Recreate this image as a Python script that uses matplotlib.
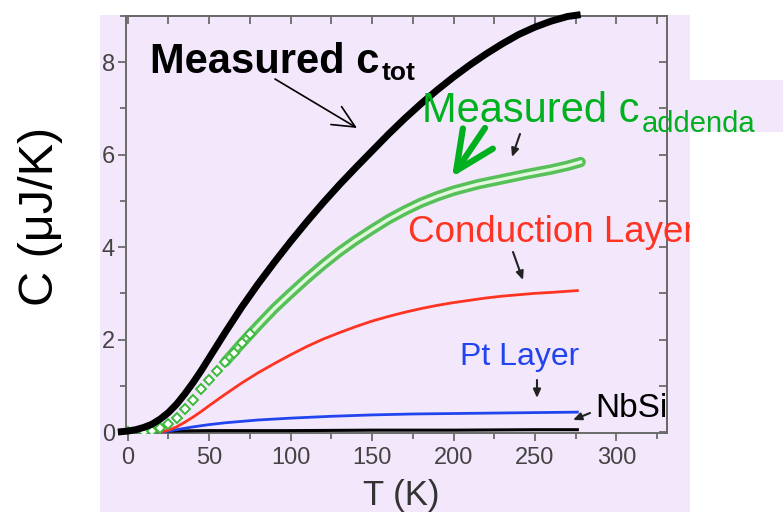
import matplotlib.pyplot as plt
from matplotlib.patches import Rectangle
from matplotlib.ticker import MultipleLocator

plt.rcParams['font.family'] = ['Liberation Sans', 'DejaVu Sans']

# values: T in K, C in uJ/K
t_tot = [-6, 0, 5, 10, 15, 20, 25, 30, 35, 40, 45, 50, 55, 60, 70, 80, 90,
         100, 110, 120, 130, 140, 150, 160, 170, 180, 190, 200, 210, 220,
         230, 240, 250, 260, 270, 278]
c_tot = [0.0, 0.02, 0.05, 0.1, 0.17, 0.28, 0.42, 0.6, 0.82, 1.06, 1.32, 1.6,
         1.88, 2.16, 2.7, 3.2, 3.67, 4.12, 4.55, 4.96, 5.35, 5.72, 6.08,
         6.44, 6.78, 7.1, 7.4, 7.68, 7.94, 8.18, 8.4, 8.6, 8.76, 8.89, 8.99,
         9.03]

t_add = [0, 10, 15, 20, 25, 30, 35, 40, 45, 50, 55, 60, 65, 70, 75, 80, 90,
         100, 110, 120, 130, 140, 150, 160, 170, 180, 190, 200, 215, 230,
         245, 260, 270, 278]
c_add = [0.0, 0.01, 0.03, 0.08, 0.17, 0.31, 0.49, 0.7, 0.92, 1.12, 1.32,
         1.52, 1.72, 1.92, 2.11, 2.3, 2.67, 3.0, 3.32, 3.62, 3.9, 4.15, 4.38,
         4.6, 4.79, 4.96, 5.1, 5.22, 5.36, 5.47, 5.58, 5.68, 5.76, 5.84]

t_cond = [20, 25, 30, 35, 40, 45, 50, 60, 70, 80, 90, 100, 110, 120, 130,
          140, 150, 160, 170, 180, 190, 200, 210, 220, 230, 240, 250, 260,
          276]
c_cond = [0.0, 0.04, 0.11, 0.21, 0.32, 0.44, 0.57, 0.82, 1.06, 1.28, 1.48,
          1.67, 1.85, 2.01, 2.15, 2.28, 2.4, 2.5, 2.59, 2.67, 2.74, 2.8,
          2.85, 2.9, 2.94, 2.97, 3.0, 3.02, 3.06]

t_pt = [20, 25, 30, 40, 50, 60, 80, 100, 125, 150, 175, 200, 225, 250, 276]
c_pt = [0.0, 0.02, 0.05, 0.11, 0.16, 0.2, 0.26, 0.3, 0.34, 0.37, 0.39, 0.4,
        0.41, 0.42, 0.43]

t_nbsi = [25, 50, 100, 150, 200, 250, 276]
c_nbsi = [0.02, 0.03, 0.03, 0.04, 0.04, 0.05, 0.05]

x_ticks = [0, 50, 100, 150, 200, 250, 300]
y_ticks = [0, 2, 4, 6, 8]

W, H = 783, 512
LAV = '#f3e8fb'
GREEN = '#00b01e'
MARK_GREEN = '#3cba3c'
RED = '#ff3322'
BLUE = '#2244ee'
AXIS_GREY = '#6a6a6a'
LABEL_GREY = '#444444'


def fx(x):
    return x / W


def fy(y):
    return 1 - y / H


def px(x, y):
    # picture pixel (origin top-left) -> figure pixels (origin bottom-left)
    return (x, H - y)


fig = plt.figure(figsize=(W / 100, H / 100), dpi=100)
fig.patch.set_facecolor('white')

# lavender panel of the original slide
panel = Rectangle((fx(100), 0), fx(690) - fx(100), fy(15),
                  transform=fig.transFigure, facecolor=LAV,
                  edgecolor='none', zorder=0)
fig.add_artist(panel)
# box behind the c_addenda label that sticks out to the right
fig.add_artist(Rectangle((fx(600), fy(132)), fx(783) - fx(600), 52 / H,
                         transform=fig.transFigure, facecolor=LAV,
                         edgecolor='none', zorder=0))

ax = fig.add_axes([fx(126), fy(433.4), (667 - 126) / W, (433.4 - 16) / H])
ax.set_facecolor(LAV)
ax.set_xlim(-1, 331)
ax.set_ylim(-0.03, 9.0)

# curves
ax.plot(t_nbsi, c_nbsi, color='black', lw=2.2, zorder=3)
ax.plot(t_pt, c_pt, color=BLUE, lw=2.0, zorder=3)
ax.plot(t_cond, c_cond, color=RED, lw=2.0, zorder=3)

# addenda: open markers, dense enough at higher T to merge into a band
ax.plot(t_add[11:], c_add[11:], color=MARK_GREEN, lw=7.5, alpha=0.85,
        solid_capstyle='round', zorder=4)
ax.plot(t_add[11:], c_add[11:], color='#e2f7de', lw=2.4, zorder=4)
ax.plot(t_add[:15], c_add[:15], ls='none', marker='D', ms=5.5,
        mfc='white', mec=MARK_GREEN, mew=1.4, zorder=4)

ax.plot(t_tot, c_tot, color='black', lw=5, solid_capstyle='butt',
        clip_on=False, zorder=5)

# axes styling
for s in ax.spines.values():
    s.set_color(AXIS_GREY)
    s.set_linewidth(1.4)
ax.set_xticks(x_ticks)
ax.set_yticks(y_ticks)
ax.xaxis.set_minor_locator(MultipleLocator(25))
ax.yaxis.set_minor_locator(MultipleLocator(1))
ax.tick_params(which='major', direction='out', length=6, width=1.3,
               color=AXIS_GREY, labelsize=17, labelcolor=LABEL_GREY, pad=4)
ax.tick_params(which='minor', direction='out', length=4, width=1.3,
               color=AXIS_GREY)
ax.tick_params(axis='y', which='major', pad=2)

top = ax.secondary_xaxis('top')
top.set_xticks(x_ticks)
top.xaxis.set_minor_locator(MultipleLocator(25))
top.tick_params(which='both', direction='in', length=6, width=1.3,
                color=AXIS_GREY, labeltop=False)
top.spines['top'].set_color(AXIS_GREY)
top.spines['top'].set_linewidth(1.4)

right = ax.secondary_yaxis('right')
right.set_yticks(y_ticks)
right.yaxis.set_minor_locator(MultipleLocator(1))
right.tick_params(which='both', direction='in', length=6, width=1.3,
                  color=AXIS_GREY, labelright=False)
right.spines['right'].set_color(AXIS_GREY)
right.spines['right'].set_linewidth(1.4)

# axis titles
fig.text(fx(401), fy(505), 'T (K)', fontsize=25, color='#333333',
         ha='center', va='baseline')
fig.text(fx(41), fy(216), 'C (\u03bcJ/K)', fontsize=35, color='black',
         rotation=90, ha='center', va='center')

# labels on the curves
fig.canvas.draw()


def with_subscript(x, y, main, sub, size, sub_size, dy, **kw):
    t = fig.text(fx(x), fy(y), main, fontsize=size, va='baseline', **kw)
    bb = t.get_window_extent(renderer=fig.canvas.get_renderer())
    fig.text(fx(bb.x1 + 2), fy(y + dy), sub, fontsize=sub_size,
             va='baseline', **kw)


with_subscript(150, 73, 'Measured c', 'tot', 30, 19, 7,
               color='black', fontweight='bold')
with_subscript(422, 122, 'Measured c', 'addenda', 30, 21, 10, color=GREEN)

cond = fig.text(fx(408), fy(242), 'Conduction Layer', fontsize=26.5,
                color=RED, va='baseline')
cond.set_clip_path(panel)
cond.set_clip_on(True)
fig.text(fx(460), fy(365), 'Pt Layer', fontsize=23, color=BLUE,
         va='baseline')
fig.text(fx(595), fy(417), 'NbSi', fontsize=24, color='black',
         va='baseline')

# arrows
ax.annotate('', xy=px(357, 128), xycoords='figure pixels',
            xytext=px(275, 79), textcoords='figure pixels',
            arrowprops=dict(arrowstyle='->,head_length=1.6,head_width=0.75',
                            lw=1.2, color='black', mutation_scale=10,
                            shrinkA=0, shrinkB=0))
ax.annotate('', xy=px(452, 177), xycoords='figure pixels',
            xytext=px(485, 128), textcoords='figure pixels',
            arrowprops=dict(arrowstyle='->,head_length=2.8,head_width=1.3',
                            lw=4.5, color=GREEN, mutation_scale=10,
                            capstyle='round', joinstyle='round',
                            shrinkA=0, shrinkB=0))
for tail, tip in [((520, 134), (512, 157)), ((513, 252), (523, 280)),
                  ((537, 380), (537, 398)), ((590, 413), (573, 420))]:
    ax.annotate('', xy=px(*tip), xycoords='figure pixels',
                xytext=px(*tail), textcoords='figure pixels',
                arrowprops=dict(arrowstyle='-|>,head_length=0.5,head_width=0.22',
                                lw=1.5, color='#222222', mutation_scale=10,
                                shrinkA=0, shrinkB=0))

fig.savefig('out.png', dpi=100)
